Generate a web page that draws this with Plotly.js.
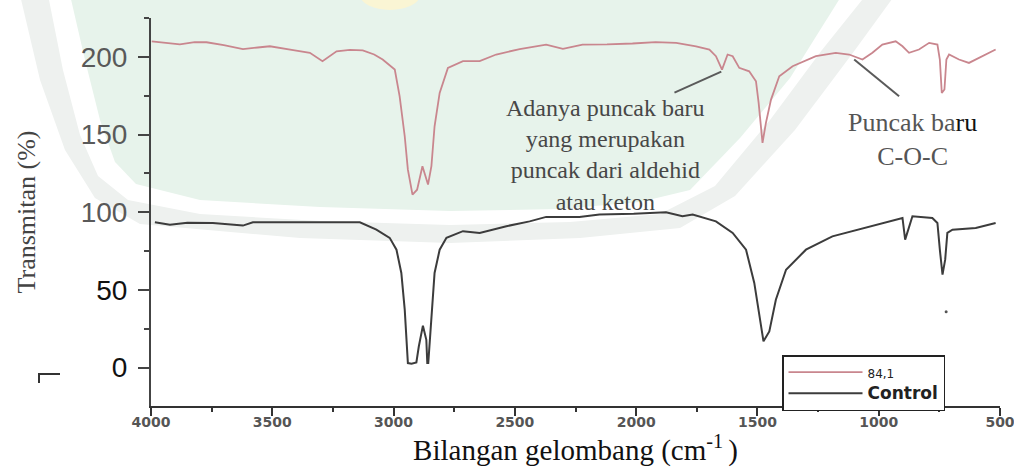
<!DOCTYPE html>
<html>
<head>
<meta charset="utf-8">
<script src="https://cdn.plot.ly/plotly-3.0.1.min.js"></script>
<style>
  html, body { margin: 0; padding: 0; background: #ffffff; }
  #chart { width: 1014px; height: 472px; }
</style>
</head>
<body>
<div id="chart"></div>
<script>
// FTIR spectra: wavenumber (cm-1) vs transmittance (%), sample 84,1 stacked above the control
const sampleWavenumber = [3997, 3940, 3881, 3820, 3771, 3700, 3621, 3560, 3510, 3420, 3345, 3293, 3235, 3180, 3127, 3080, 3045,
  2995, 2975, 2954, 2941, 2922, 2903, 2881, 2858, 2844, 2831, 2810, 2776, 2714, 2645, 2577, 2480, 2371, 2302, 2221, 2120, 2015,
  1920, 1835, 1753, 1698, 1671, 1646, 1623, 1602, 1575, 1534, 1506, 1495, 1479, 1465, 1444, 1410, 1355, 1259, 1177, 1122, 1067,
  1026, 985, 930, 902, 875, 834, 792, 758, 748, 740, 729, 721, 710, 669, 628, 586, 518];
const sampleTransmittance = [210, 209, 208, 209.5, 209.4, 207.5, 205, 206, 206.8, 204.5, 202.6, 197.2, 203.6, 204.5, 204.2, 201.5, 198.3,
  191.8, 174.6, 148.9, 127.4, 111.3, 114.5, 129.6, 117.8, 129.6, 155.3, 176.8, 192.9, 197.2, 197.2, 201.5, 205, 207.9, 205.1, 207.9, 208, 208.6,
  209.5, 209, 206.8, 204.7, 200.4, 191.8, 201.5, 200.4, 192.9, 190.7, 184.3, 170.4, 144.6, 157.5, 172.5, 187.5, 194, 200.4, 202.6, 201.5, 198.3,
  202.6, 207.9, 210, 206.8, 202.6, 204.7, 209, 207.9, 198.3, 176.8, 179, 198.3, 201.5, 198.3, 196.1, 199.4, 204.7];

const controlWavenumber = [3984, 3922, 3850, 3745, 3621, 3580, 3386, 3139, 3071, 3016, 2988, 2968, 2954, 2945, 2941, 2926, 2906,
  2896, 2879, 2865, 2861, 2857, 2851, 2844, 2831, 2810, 2782, 2714, 2645, 2535, 2439, 2371, 2234, 2151, 2010, 1877, 1809, 1767,
  1671, 1602, 1547, 1513, 1492, 1475, 1451, 1424, 1382, 1300, 1191, 1053, 930, 902, 891, 878, 861, 779, 758, 748, 737, 726,
  717, 696, 600, 518];
const controlTransmittance = [93.5, 92, 93.2, 93.1, 91.4, 93.5, 93.5, 93.5, 88.8, 83.5, 75.9, 60.9, 37.3, 17.9, 2.9, 2.5, 3.3,
  13.6, 27, 17.9, 2.9, 2.9, 15.8, 37.3, 60.9, 75.9, 83.5, 87.8, 86.7, 91, 94.1, 97, 97, 98.5, 99, 100, 97.4, 98.5,
  94.1, 86.7, 75.9, 54.5, 33, 16.9, 23.3, 43.7, 63, 75.9, 84.5, 89.9, 95.2, 96.3, 82.4, 88.8, 97.4, 96.3, 93.1, 75.9, 59.8, 69.5,
  86.7, 88.8, 89.9, 93.1];

// lone point recorded below the 720 cm-1 band
const strayWavenumber = [722];
const strayTransmittance = [36];

const seriesNames = ['84,1', 'Control'];
const xTickValues = [4000, 3500, 3000, 2500, 2000, 1500, 1000, 500];
const yTickValues = [0, 50, 100, 150, 200];
const yTickLabels = ['0', '50', '100', '150', '200'];

const aldehydeNote = ['Adanya puncak baru', 'yang merupakan', 'puncak dari aldehid', 'atau keton'];
const etherNote = ['Puncak ba<span style="color:#111">ru</span>', 'C-O-C'];
const xTitle = 'Bilangan gelombang (cm<sup>-1 </sup>)';
const yTitle = 'Transmitan (%)';

// plot frame in pixels, used to place decorations in paper units
const W = 1014, H = 472;
const M = { l: 151, r: 14, t: 18, b: 66 };
const PW = W - M.l - M.r, PH = H - M.t - M.b;
const px = x => (x - M.l) / PW;
const py = y => (H - M.b - y) / PH;
const pathFrom = pts => 'M ' + pts.map(p => px(p[0]).toFixed(4) + ',' + py(p[1]).toFixed(4)).join(' L ') + ' Z';

// library seal in the background: outer grey ring, white band, green field
const sealOuter = [[20, -5], [40, 80], [65, 150], [95, 198], [140, 224], [300, 238], [450, 243], [580, 238], [680, 228], [735, 196], [795, 130], [855, 50], [895, -5]];
const sealBand = [[48, -5], [63, 70], [80, 135], [98, 176], [128, 200], [200, 214], [320, 221], [450, 225], [570, 222], [660, 214], [715, 186], [770, 120], [822, 50], [866, -5]];
const sealField = [[70, -5], [85, 60], [100, 120], [115, 162], [136, 184], [200, 200], [320, 207], [450, 211], [560, 209], [640, 202], [690, 190], [740, 138], [790, 78], [842, -5]];

const colorSample = '#c9868e';
const colorControl = '#3c3c3c';

const traces = [
  {
    x: sampleWavenumber, y: sampleTransmittance, name: '<span style="font-size:12px;font-weight:normal">' + seriesNames[0] + '</span>',
    type: 'scatter', mode: 'lines', line: { color: colorSample, width: 1.8 }
  },
  {
    x: controlWavenumber, y: controlTransmittance, name: '<span style="font-size:17px">' + seriesNames[1] + '</span>',
    type: 'scatter', mode: 'lines', line: { color: colorControl, width: 2 }
  },
  {
    x: strayWavenumber, y: strayTransmittance, type: 'scatter', mode: 'markers', showlegend: false,
    marker: { color: '#555', size: 3 }
  }
];

const serif = 'Liberation Serif';

const annotations = [
  {
    xref: 'paper', yref: 'paper', x: px(605), y: py(155),
    xanchor: 'center', yanchor: 'middle', showarrow: false,
    text: aldehydeNote.join('<br>'), font: { family: serif, size: 24, color: '#474747' }
  },
  {
    xref: 'paper', yref: 'paper', x: px(912), y: py(139),
    xanchor: 'center', yanchor: 'middle', showarrow: false,
    text: etherNote.join('<br>'), font: { family: serif, size: 26, color: '#555' }
  }
];

const shapes = [
  { type: 'path', xref: 'paper', yref: 'paper', layer: 'below', path: pathFrom(sealOuter), fillcolor: '#eef1ef', line: { width: 0 } },
  { type: 'path', xref: 'paper', yref: 'paper', layer: 'below', path: pathFrom(sealBand), fillcolor: '#ffffff', line: { width: 0 } },
  { type: 'path', xref: 'paper', yref: 'paper', layer: 'below', path: pathFrom(sealField), fillcolor: '#e7f3eb', line: { width: 0 } },
  { type: 'circle', xref: 'paper', yref: 'paper', layer: 'below', x0: px(360), x1: px(420), y0: py(10), y1: py(-20), fillcolor: '#faf5d4', line: { width: 0 } },
  // pointer lines from the notes to the bands
  { type: 'line', xref: 'x', yref: 'y', x0: 1842, y0: 177, x1: 1649, y1: 190.5, line: { color: '#5a5a5a', width: 2 } },
  { type: 'line', xref: 'x', yref: 'y', x0: 916, y0: 174.6, x1: 1101, y1: 198.3, line: { color: '#5a5a5a', width: 2 } },
  // small corner mark left of the axis
  { type: 'path', xref: 'paper', yref: 'paper', path: 'M ' + px(39) + ',' + py(383) + ' L ' + px(39) + ',' + py(374) + ' L ' + px(60) + ',' + py(374),
    line: { color: '#333', width: 2 } }
];

const layout = {
  width: W, height: H,
  margin: M,
  paper_bgcolor: '#ffffff',
  plot_bgcolor: 'rgba(0,0,0,0)',
  showlegend: true,
  xaxis: {
    range: [4000, 500], tickvals: xTickValues, ticktext: xTickValues.map(String),
    showgrid: false, zeroline: false, showline: true, linecolor: '#333', linewidth: 2,
    ticks: 'outside', ticklen: 8, tickwidth: 2, tickcolor: '#333',
    minor: { ticks: 'outside', dtick: 250, ticklen: 4, tickwidth: 2, tickcolor: '#333' },
    tickfont: { family: 'DejaVu Sans, sans-serif', size: 14, weight: 'bold', color: '#555' },
    ticklabelstandoff: -6, ticklabeloverflow: 'allow',
    title: { text: xTitle, font: { family: serif, size: 29, color: '#111' }, standoff: 7 }
  },
  yaxis: {
    range: [-24.7, 225], tickvals: yTickValues,
    ticktext: yTickLabels.map((t, i) => i >= 2 ? '<span style="color:#595959">' + t + '</span>' : t),
    showgrid: false, zeroline: false, showline: true, linecolor: '#444', linewidth: 2,
    ticks: 'outside', ticklen: 11, tickwidth: 2, tickcolor: '#444',
    minor: { ticks: 'outside', dtick: 25, tick0: 0, ticklen: 5, tickwidth: 2, tickcolor: '#444' },
    tickfont: { family: 'Liberation Sans, Arial, sans-serif', size: 28, color: '#111' },
    ticklabelstandoff: 5,
    title: { text: yTitle, font: { family: serif, size: 26, color: '#444' }, standoff: 38 }
  },
  legend: {
    x: px(782), y: py(355), xanchor: 'left', yanchor: 'top',
    bgcolor: '#ffffff', bordercolor: '#222', borderwidth: 1.5,
    itemwidth: 74,
    font: { family: 'DejaVu Sans, sans-serif', size: 14, weight: 'bold', color: '#222' },
    tracegroupgap: 0
  },
  annotations: annotations,
  shapes: shapes
};

Plotly.newPlot('chart', traces, layout, { staticPlot: true, displayModeBar: false });
</script>
</body>
</html>
